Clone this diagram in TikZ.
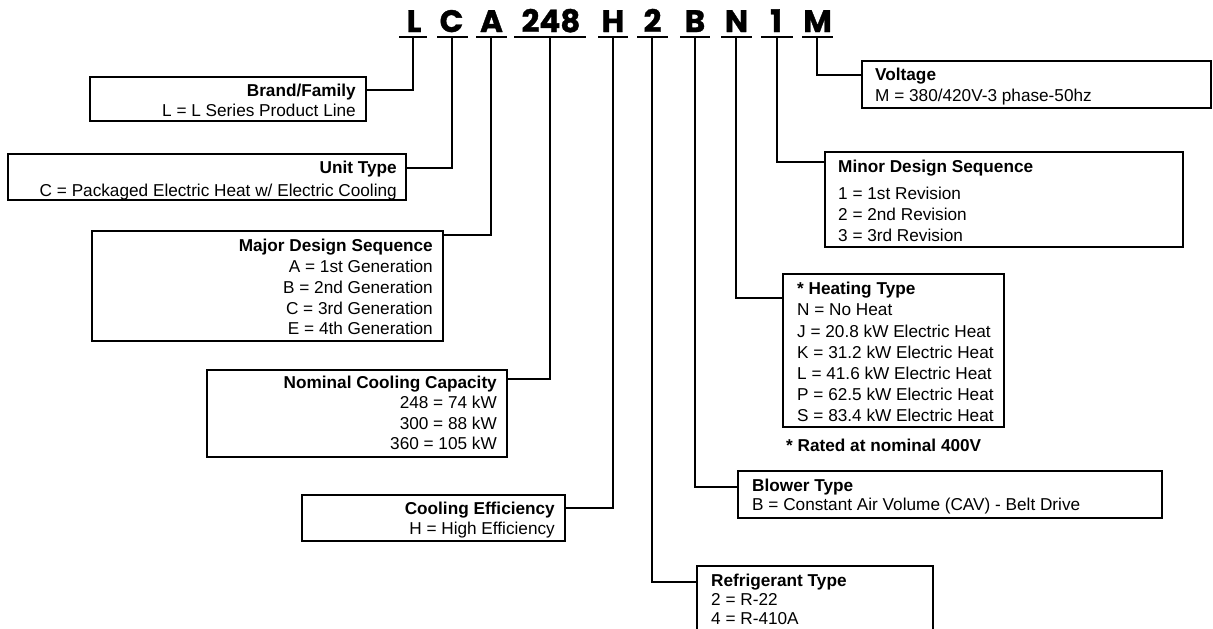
\documentclass[tikz,border=0pt]{standalone}
\usepackage{fontspec}
\setmainfont{Liberation Sans}
\newfontfamily\codefont[BoldFeatures={FakeBold=1.2}]{Poppins}
\usetikzlibrary{calc}
\tikzset{
  box/.style={draw, line width=1.3pt, inner sep=0pt, outer sep=0pt},
  conn/.style={line width=2pt},
  ul/.style={fill=black, inner sep=0pt, outer sep=0pt, minimum height=2.2pt},
  code/.style={font=\codefont\bfseries\fontsize{31}{31}\selectfont, inner sep=0pt, anchor=base},
  txt/.style={font=\fontsize{17.2}{#1}\selectfont, inner sep=0pt},
  txt/.default=20.7,
  lt/.style={txt=#1, align=left, anchor=north west},
  lt/.default=20.7,
  rt/.style={txt=#1, align=right, anchor=north east},
  rt/.default=20.7,
}
\begin{document}
\begin{tikzpicture}[x=1pt,y=-1pt]
\useasboundingbox (0,0) rectangle (1213,629);
\clip (0,0) rectangle (1213,629);

% code letters
\node[code] (cL) at (414,32) {L};
\node[code] (cC) at (451.5,32) {C};
\node[code] (cA) at (491.5,32) {A};
\node[code] (c248) at (551,32) {248};
\node[code] (cH) at (613,32) {H};
\node[code] (c2) at (652.5,32) {2};
\node[code] (cB) at (695,32) {B};
\node[code] (cN) at (736.5,32) {N};
\node[code] (c1) at (776,32) {1};
\node[code] (cM) at (817.5,32) {M};

% underlines
\node[ul, minimum width=28pt] (uL) at (413,37) {};
\node[ul, minimum width=31pt] (uC) at (452,37) {};
\node[ul, minimum width=31pt] (uA) at (491,37) {};
\node[ul, minimum width=72pt] (u248) at (550,37) {};
\node[ul, minimum width=30pt] (uH) at (613,37) {};
\node[ul, minimum width=31pt] (u2) at (652,37) {};
\node[ul, minimum width=30pt] (uB) at (695,37) {};
\node[ul, minimum width=31pt] (uN) at (736,37) {};
\node[ul, minimum width=32pt] (u1) at (777,37) {};
\node[ul, minimum width=31pt] (uM) at (817,37) {};

% boxes
\node[box, minimum width=276pt, minimum height=44pt] (brand) at (228,99) {};
\node[box, minimum width=398pt, minimum height=46pt] (unit) at (207,177) {};
\node[box, minimum width=351pt, minimum height=110pt] (major) at (267.5,286) {};
\node[box, minimum width=300pt, minimum height=87pt] (nominal) at (357,413.5) {};
\node[box, minimum width=263pt, minimum height=46pt] (cooleff) at (433.5,518) {};
\node[box, minimum width=349pt, minimum height=47pt] (voltage) at (1036.5,84.5) {};
\node[box, minimum width=358pt, minimum height=95pt] (minor) at (1004,199.5) {};
\node[box, minimum width=221pt, minimum height=153pt] (heating) at (893.5,350.5) {};
\node[box, minimum width=424pt, minimum height=47pt] (blower) at (950,494.5) {};
\node[box, minimum width=236pt, minimum height=84pt] (refrig) at (815,608) {};

% texts
\node[rt=20] (tbrand) at ($(brand.north east)+(-10,7)$) {\textbf{Brand/Family}\\L = L Series Product Line};
\node[rt=23] (tunit) at ($(unit.north east)+(-9,7)$) {\textbf{Unit Type}\\C = Packaged Electric Heat w/ Electric Cooling};
\node[rt=20.8] (tmajor) at ($(major.north east)+(-10,8)$) {\textbf{Major Design Sequence}\\A = 1st Generation\\B = 2nd Generation\\C = 3rd Generation\\E = 4th Generation};
\node[rt=20.3] (tnominal) at ($(nominal.north east)+(-10,6)$) {\textbf{Nominal Cooling Capacity}\\248 = 74 kW\\300 = 88 kW\\360 = 105 kW};
\node[rt=20] (tcool) at ($(cooleff.north east)+(-10,7)$) {\textbf{Cooling Efficiency}\\H = High Efficiency};
\node[lt=21] (tvolt) at ($(voltage.north west)+(13,7)$) {\textbf{Voltage}\\M = 380/420V-3 phase-50hz};
\node[lt=21] (tminor) at ($(minor.north west)+(13,8)$) {\textbf{Minor Design Sequence}\\[6pt]1 = 1st Revision\\2 = 2nd Revision\\3 = 3rd Revision};
\node[lt=21.2] (theat) at ($(heating.north west)+(14,8)$) {\textbf{* Heating Type}\\N = No Heat\\J = 20.8 kW Electric Heat\\K = 31.2 kW Electric Heat\\L = 41.6 kW Electric Heat\\P = 62.5 kW Electric Heat\\S = 83.4 kW Electric Heat};
\node[lt] (trated) at ($(heating.south west)+(3,12)$) {\textbf{* Rated at nominal 400V}};
\node[lt=18.5] (tblow) at ($(blower.north west)+(14,8)$) {\textbf{Blower Type}\\B = Constant Air Volume (CAV) - Belt Drive};
\node[lt=19] (trefr) at ($(refrig.north west)+(14,8)$) {\textbf{Refrigerant Type}\\2 = R-22\\4 = R-410A};

% connectors
\draw[conn] (uL.center) |- ($(brand.north east)+(0,13)$);
\draw[conn] (uC.center) |- ($(unit.north east)+(0,14)$);
\draw[conn] (uA.center) |- ($(major.north east)+(0,4)$);
\draw[conn] (u248.center) |- ($(nominal.north east)+(0,9)$);
\draw[conn] (uH.center) |- ($(cooleff.north east)+(0,13)$);
\draw[conn] (u2.center) |- ($(refrig.north west)+(0,16)$);
\draw[conn] (uB.center) |- ($(blower.north west)+(0,16)$);
\draw[conn] (uN.center) |- ($(heating.north west)+(0,24)$);
\draw[conn] (u1.center) |- ($(minor.north west)+(0,10)$);
\draw[conn] (uM.center) |- ($(voltage.north west)+(0,14)$);
\end{tikzpicture}
\end{document}
